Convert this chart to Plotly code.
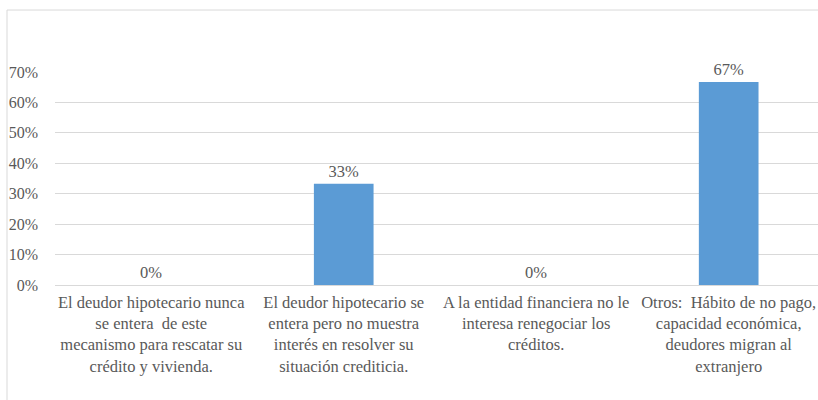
import plotly.graph_objects as go

# Motivos por los que no se renegocian los créditos hipotecarios
categorias = [
    "El deudor hipotecario nunca<br>se entera  de este<br>mecanismo para rescatar su<br>crédito y vivienda.",
    "El deudor hipotecario se<br>entera pero no muestra<br>interés en resolver su<br>situación crediticia.",
    "A la entidad financiera no le<br>interesa renegociar los<br>créditos.",
    "Otros:  Hábito de no pago,<br>capacidad económica,<br>deudores migran al<br>extranjero",
]
porcentajes = [0.0, 0.333, 0.0, 0.667]
etiquetas = ["0%", "33%", "0%", "67%"]
ticks_y = [0, 0.1, 0.2, 0.3, 0.4, 0.5, 0.6, 0.7]
ticks_y_texto = ["0%", "10%", "20%", "30%", "40%", "50%", "60%", "70%"]

GRIS_TEXTO = "#595959"
FUENTE = "'Times New Roman', 'Liberation Serif', 'DejaVu Serif', serif"

fig = go.Figure(
    go.Bar(
        x=list(range(len(categorias))),
        y=porcentajes,
        text=etiquetas,
        textposition="outside",
        cliponaxis=False,
        textfont=dict(family=FUENTE, size=16.5, color=GRIS_TEXTO),
        marker=dict(color="#5B9BD5", line=dict(width=0)),
        width=0.31,
    )
)

fig.update_layout(
    width=818,
    height=400,
    margin=dict(l=55, r=0, t=72, b=115),
    paper_bgcolor="white",
    plot_bgcolor="white",
    showlegend=False,
    font=dict(family=FUENTE, size=16, color=GRIS_TEXTO),
    xaxis=dict(
        tickmode="array",
        tickvals=list(range(len(categorias))),
        ticktext=categorias,
        range=[-0.5, 3.464],
        showgrid=False,
        showline=False,
        zeroline=False,
        tickfont=dict(family=FUENTE, size=16.5, color=GRIS_TEXTO),
        ticklabelstandoff=5,
    ),
    yaxis=dict(
        range=[0, 0.7],
        tickmode="array",
        tickvals=ticks_y,
        ticktext=ticks_y_texto,
        showgrid=True,
        gridcolor="#D9D9D9",
        gridwidth=1,
        zeroline=True,
        zerolinecolor="#D9D9D9",
        zerolinewidth=1,
        showline=False,
        tickfont=dict(family=FUENTE, size=16, color=GRIS_TEXTO),
        ticklabelstandoff=16,
    ),
    shapes=[
        dict(
            type="rect",
            xref="paper",
            yref="paper",
            x0=-0.0629,
            x1=1.01,
            y0=-0.7,
            y1=1.291,
            line=dict(color="#D9D9D9", width=1),
            fillcolor="rgba(0,0,0,0)",
            layer="below",
        )
    ],
)

fig.write_html("out.html")
